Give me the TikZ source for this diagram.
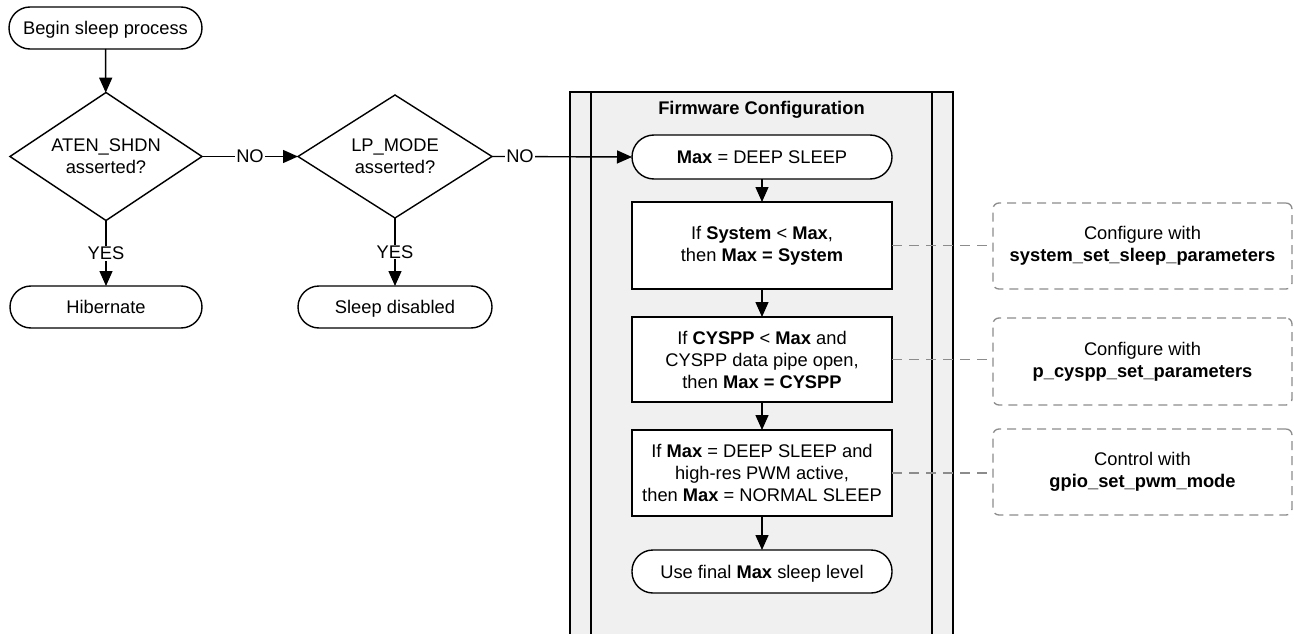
\documentclass[tikz,border=0pt]{standalone}
\usepackage{fontspec}
\setmainfont{Liberation Sans}
\usetikzlibrary{shapes.geometric,arrows.meta}
\definecolor{panelgray}{HTML}{F0F0F0}
\definecolor{dashgray}{HTML}{8C8C8C}
\tikzset{
  base/.style={font=\fontsize{18.3}{22}\selectfont, align=center, inner sep=0pt, outer sep=0pt},
  pill/.style={base, draw, fill=white, line width=1.4pt, rounded corners=21pt, minimum height=42pt, text height=13pt, text depth=0pt},
  procbox/.style={base, draw, fill=white, line width=1.4pt, minimum width=260pt},
  decision/.style={base, draw, fill=white, line width=1.4pt, diamond, aspect=1.5},
  notebox/.style={base, draw=dashgray, line width=1.3pt, rounded corners=6pt, dash pattern=on 9pt off 6pt, minimum width=299pt},
  flow/.style={line width=1.4pt, -{Triangle[length=15pt,width=13pt]}},
  plain/.style={line width=1.4pt},
  link/.style={draw=dashgray, line width=1.3pt, dash pattern=on 10pt off 7pt},
  lbl/.style={base, fill=white, inner sep=1pt}
}
\begin{document}
\begin{tikzpicture}[x=1pt,y=-1pt]
\useasboundingbox (0,0) rectangle (1294,634);
% panel
\fill[panelgray] (570,92) rectangle (953,640);
\draw[plain] (570,640) -- (570,92) -- (953,92) -- (953,640);
\draw[plain] (591,92) -- (591,640);
\draw[plain] (932,92) -- (932,640);
\node[base] (title) at (761.5,110) {\textbf{Firmware Configuration}};

% left part
\node[pill, minimum width=193pt] (begin) at (105.5,28) {Begin sleep process};
\node[decision, minimum width=192pt, minimum height=128pt] (d1) at (106,156.5) {ATEN\_SHDN\\asserted?};
\node[decision, minimum width=194pt, minimum height=123pt] (d2) at (395,156.5) {LP\_MODE\\asserted?};
\node[pill, minimum width=192pt] (hib) at (106,307) {Hibernate};
\node[pill, minimum width=194pt] (sd) at (395,307) {Sleep disabled};

% firmware chain
\node[pill, minimum width=260pt, minimum height=44pt, rounded corners=22pt] (max) at (762,157) {\textbf{Max} = DEEP SLEEP};
\node[procbox, minimum height=87pt] (b1) at (762,245.5) {If \textbf{System} < \textbf{Max},\\then \textbf{Max = System}};
\node[procbox, minimum height=85pt] (b2) at (762,359.5) {If \textbf{CYSPP} < \textbf{Max} and\\CYSPP data pipe open,\\then \textbf{Max = CYSPP}};
\node[procbox, minimum height=86pt] (b3) at (762,473) {If \textbf{Max} = DEEP SLEEP and\\high-res PWM active,\\then \textbf{Max} = NORMAL SLEEP};
\node[pill, minimum width=260pt, minimum height=43pt] (fin) at (762,571.5) {Use final \textbf{Max} sleep level};

% notes
\node[notebox, minimum height=86pt] (n1) at (1142.5,246) {Configure with\\\textbf{system\_set\_sleep\_parameters}};
\node[notebox, minimum height=87pt] (n2) at (1142.5,361.5) {Configure with\\\textbf{p\_cyspp\_set\_parameters}};
\node[notebox, minimum height=86pt] (n3) at (1142.5,472) {Control with\\\textbf{gpio\_set\_pwm\_mode}};

% connectors
\draw[flow] (begin) -- (d1);
\draw[flow] (d1.east) -- node[lbl] {NO} (d2.west);
\draw[flow] (d1.south) -- node[lbl] {YES} (hib.north);
\draw[flow] (d2.south) -- node[lbl] {YES} (sd.north);
\draw[flow] (d2.east) -- node[lbl, pos=0.2] {NO} (max.west);
\draw[flow] (max) -- (b1);
\draw[flow] (b1) -- (b2);
\draw[flow] (b2) -- (b3);
\draw[flow] (b3) -- (fin);

\draw[link] (b1.east) -- (b1.east -| n1.west);
\draw[link] (b2.east) -- (b2.east -| n2.west);
\draw[link] (b3.east) -- (b3.east -| n3.west);
\end{tikzpicture}
\end{document}
